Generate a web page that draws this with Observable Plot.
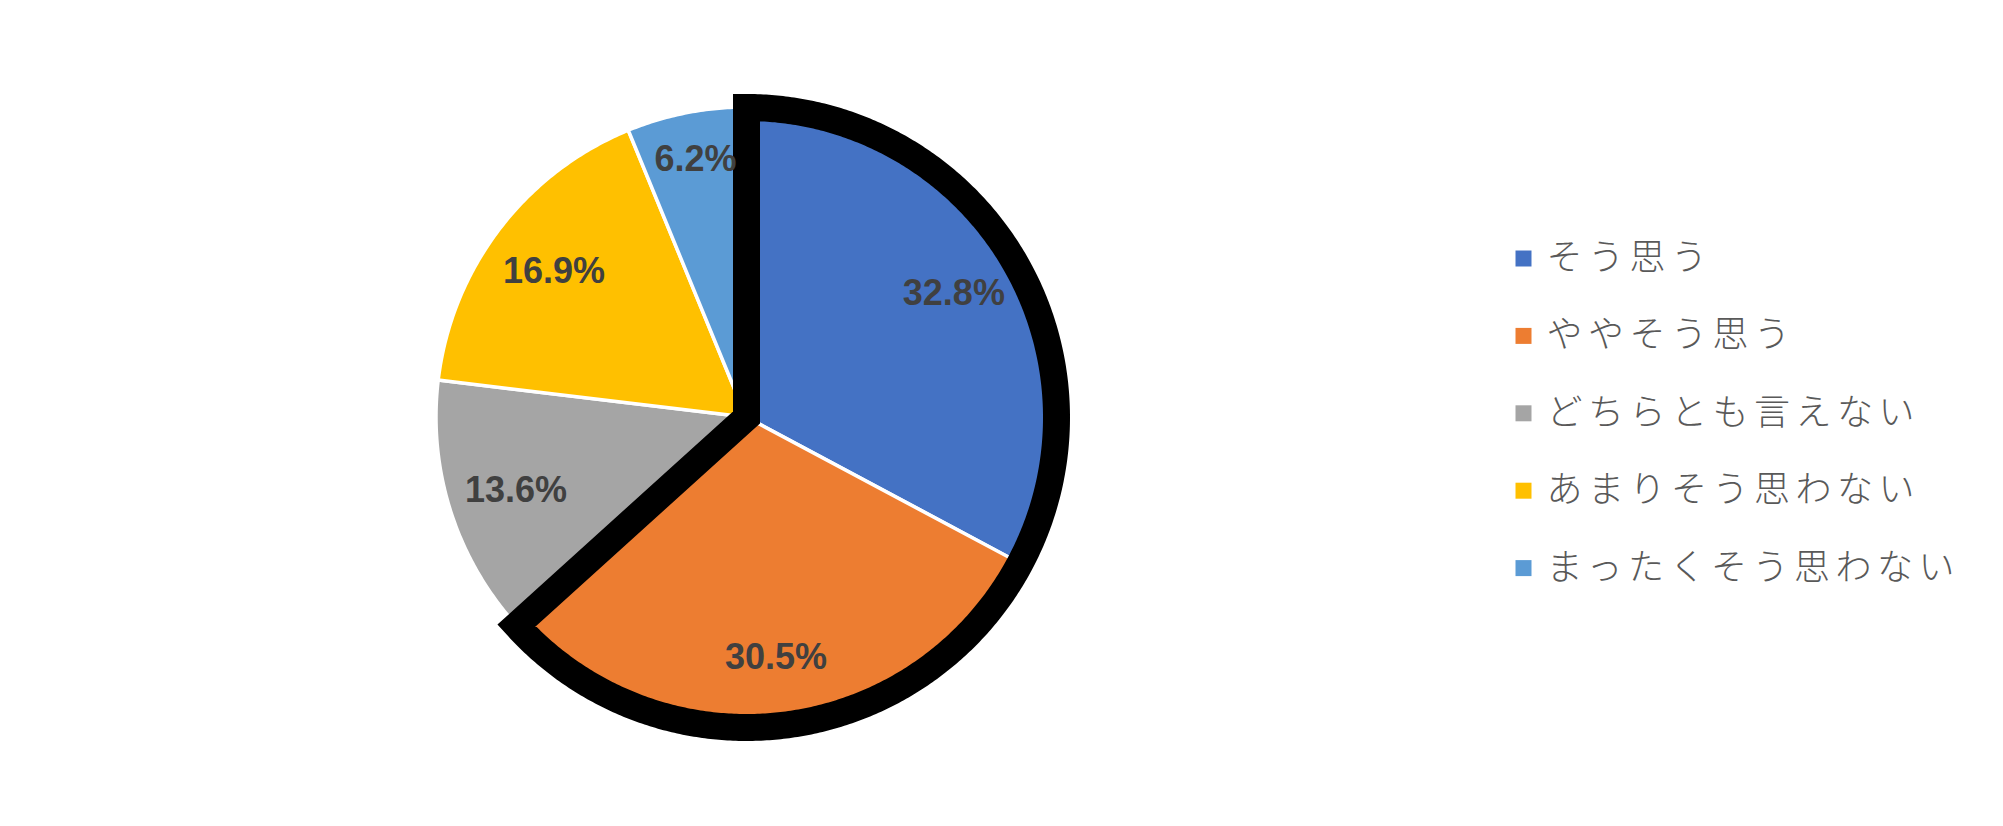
<!DOCTYPE html>
<html>
<head>
<meta charset="utf-8">
<script src="https://cdn.jsdelivr.net/npm/d3@7"></script>
<script src="https://cdn.jsdelivr.net/npm/@observablehq/plot@0.6"></script>
<style>
  html, body { margin: 0; padding: 0; background: #ffffff; }
  #chart { width: 2003px; height: 826px; }
</style>
</head>
<body>
<div id="chart"></div>
<script>
// ---- data ----
const categories = ["そう思う", "ややそう思う", "どちらとも言えない", "あまりそう思わない", "まったくそう思わない"];
const values = [32.8, 30.5, 13.6, 16.9, 6.2];
const colors = ["#4472C4", "#ED7D31", "#A5A5A5", "#FFC000", "#5B9BD5"];
const highlighted = ["そう思う", "ややそう思う"];

// ---- layout ----
const W = 2003, H = 826;
const cx = 746, cy = 417, R = 310;
const legendX = 1523, legendY0 = 258, legendStep = 77.4;

const data = categories.map((c, i) => ({category: c, value: values[i], label: values[i].toFixed(1) + "%"}));
const arcs = d3.pie().value(d => d.value).sort(null)(data);

function arcPoints(a0, a1) {
  const n = Math.max(2, Math.ceil((a1 - a0) / (Math.PI / 360)));
  return d3.range(n + 1).map(k => {
    const a = a0 + (a1 - a0) * k / n;
    return [cx + R * Math.sin(a), cy - R * Math.cos(a)];
  });
}

// slices as areas from center to arc
const sliceRows = arcs.flatMap(a =>
  arcPoints(a.startAngle, a.endAngle).map(([x, y]) => ({category: a.data.category, x1: cx, y1: cy, x2: x, y2: y}))
);

// outline of the highlighted slices
const hl = arcs.filter(a => highlighted.includes(a.data.category));
const hlStart = d3.min(hl, a => a.startAngle), hlEnd = d3.max(hl, a => a.endAngle);
const outlineRows = [{x: cx, y: cy}, ...arcPoints(hlStart, hlEnd).map(([x, y]) => ({x, y}))];

// labels
const labelRows = arcs.map(a => {
  const m = (a.startAngle + a.endAngle) / 2;
  const f = (a.endAngle - a.startAngle) < 0.1 * 2 * Math.PI * 0.7 ? 0.85 : 0.78;
  return {label: a.data.label, x: cx + R * f * Math.sin(m), y: cy - R * f * Math.cos(m)};
});

const legendRows = categories.map((c, i) => ({category: c, x: legendX, y: legendY0 + i * legendStep}));

const plot = Plot.plot({
  width: W,
  height: H,
  margin: 0,
  x: {domain: [0, W], range: [0, W], axis: null},
  y: {domain: [0, H], range: [0, H], axis: null},
  color: {domain: categories, range: colors},
  style: {background: "#ffffff"},
  marks: [
    Plot.area(sliceRows, {x1: "x1", y1: "y1", x2: "x2", y2: "y2", fill: "category", stroke: "#ffffff", strokeWidth: 3.5, strokeLinejoin: "round"}),
    Plot.line(outlineRows, {x: "x", y: "y", curve: "linear-closed", stroke: "#000000", strokeWidth: 27, strokeLinejoin: "miter", strokeMiterlimit: 10, fill: "none"}),
    Plot.text(labelRows, {x: "x", y: "y", text: "label", fill: "#404040", fontSize: 36, fontWeight: "bold", fontFamily: "Liberation Sans, Arial, sans-serif"}),
    Plot.dot(legendRows, {x: "x", y: "y", fill: "category", symbol: "square", r: 16 / Math.sqrt(Math.PI), stroke: null}),
    Plot.text(legendRows, {x: d => d.x + 23, y: "y", text: "category", textAnchor: "start", fill: "#595959", fontSize: 36, fontWeight: 300, fontFamily: "Noto Sans CJK JP, sans-serif"})
  ]
});
// letter spacing for the legend labels
d3.select(plot).selectAll("text")
  .filter(function() { return categories.includes(this.textContent); })
  .style("letter-spacing", "5.5px");
document.getElementById("chart").appendChild(plot);
</script>
</body>
</html>
